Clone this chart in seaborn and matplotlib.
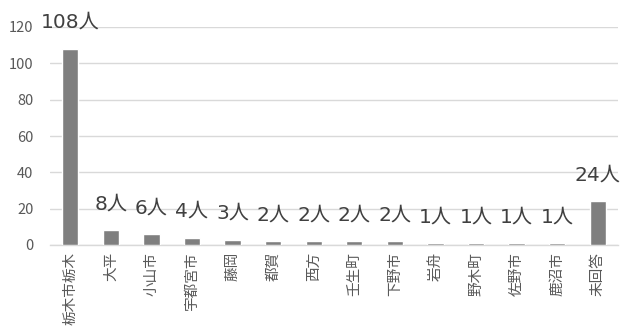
import matplotlib
matplotlib.use("Agg")
import matplotlib.pyplot as plt
import seaborn as sns
import pandas as pd

# Respondents by area
areas = ["栃木市栃木", "大平", "小山市", "宇都宮市", "藤岡", "都賀", "西方",
         "壬生町", "下野市", "岩舟", "野木町", "佐野市", "鹿沼市", "未回答"]
counts = [108, 8, 6, 4, 3, 2, 2, 2, 2, 1, 1, 1, 1, 24]
y_ticks = [0, 20, 40, 60, 80, 100, 120]

df = pd.DataFrame({"area": areas, "count": counts})

sns.set_theme(style="white")
plt.rcParams["font.family"] = ["Noto Sans CJK JP", "DejaVu Sans"]

fig = plt.figure(figsize=(6.23, 3.29), dpi=100)
ax = fig.add_axes([50 / 623, 84 / 329, 568 / 623, 218 / 329])

sns.barplot(data=df, x="area", y="count", color="#7f7f7f", width=0.4,
            saturation=1, ax=ax, zorder=3)

ax.set_ylim(0, 120)
ax.set_xlim(-0.5, len(areas) - 0.5)
ax.set_yticks(y_ticks)
ax.set_yticklabels([str(t) for t in y_ticks])
ax.yaxis.grid(True, color="#d9d9d9", linewidth=1, zorder=0)
ax.set_xlabel("")
ax.set_ylabel("")

for side in ["left", "right", "top"]:
    ax.spines[side].set_visible(False)
ax.spines["bottom"].set_color("#d9d9d9")
ax.spines["bottom"].set_linewidth(1)

ax.tick_params(axis="y", length=0, pad=12, labelsize=10.5, labelcolor="#595959")
ax.tick_params(axis="x", length=0, pad=5, labelsize=10.5, labelcolor="#595959")
for lbl in ax.get_xticklabels():
    lbl.set_rotation(90)
    lbl.set_ha("center")
    lbl.set_va("top")

# Value labels just above each bar
for i, v in enumerate(counts):
    ax.annotate(f"{v}人", xy=(i, v), xytext=(0, 15), textcoords="offset points",
                ha="center", va="baseline", fontsize=14.5, color="#404040",
                family=["DejaVu Sans", "Noto Sans CJK JP"],
                annotation_clip=False, zorder=4)

fig.savefig("out.png", dpi=100)
